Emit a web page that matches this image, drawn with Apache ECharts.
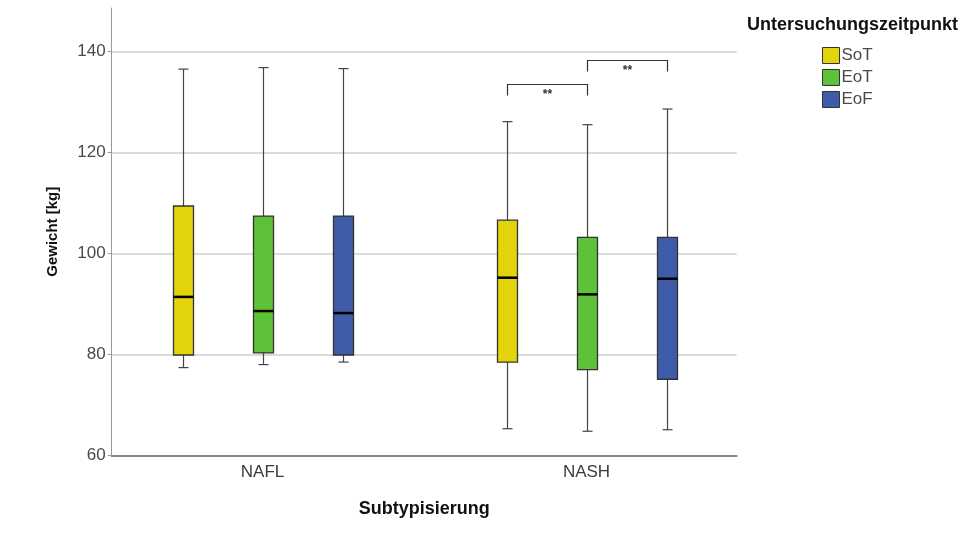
<!DOCTYPE html>
<html>
<head>
<meta charset="utf-8">
<script src="https://cdn.jsdelivr.net/npm/echarts@6/dist/echarts.min.js"></script>
<style>
  html, body { margin: 0; padding: 0; background: #fff; }
  #chart { width: 961px; height: 536px; }
</style>
</head>
<body>
<div id="chart"></div>
<script>
// data: [min, Q1, median, Q3, max] per category
var categories = ['NAFL', 'NASH']
var seriesNames = ['SoT', 'EoT', 'EoF']
var sotBox = [[77.4, 79.9, 91.4, 109.4, 136.5], [65.3, 78.5, 95.2, 106.6, 126.1]]
var eotBox = [[78.0, 80.3, 88.6, 107.4, 136.8], [64.8, 77.0, 91.9, 103.2, 125.5]]
var eofBox = [[78.5, 79.9, 88.2, 107.4, 136.6], [65.1, 75.1, 95.0, 103.2, 128.6]]
var yTicks = [60, 80, 100, 120, 140]

// significance brackets (NASH): from series -> to series, bracket height, label
var sigCategory = ['NASH', 'NASH']
var sigFrom = [0, 1]
var sigTo = [1, 2]
var sigLevel = [133.5, 138.3]
var sigLabel = ['**', '**']

var colors = ['#e2d30c', '#5ec238', '#3f5ca9']
var offsets = [-80, 0, 80] // box offset inside a category, px
var FONT = '"Liberation Sans", Arial, sans-serif'
var yMin = 60
var yMax = 148.6

function toData(box) {
  var out = []
  for (var i = 0; i < box.length; i++) {
    out.push([i].concat(box[i]))
  }
  return out
}

function boxRenderer(k) {
  return function (params, api) {
    var cat = api.value(0)
    var pMin = api.coord([cat, api.value(1)])
    var pQ1 = api.coord([cat, api.value(2)])
    var pMed = api.coord([cat, api.value(3)])
    var pQ3 = api.coord([cat, api.value(4)])
    var pMax = api.coord([cat, api.value(5)])
    var cx = Math.round(pMin[0] + offsets[k]) + 0.5
    var half = 10
    var cap = 5
    var whisker = { stroke: '#444', lineWidth: 1.2 }
    return {
      type: 'group',
      children: [
        { type: 'line', shape: { x1: cx, y1: pMax[1], x2: cx, y2: pQ3[1] }, style: whisker },
        { type: 'line', shape: { x1: cx, y1: pQ1[1], x2: cx, y2: pMin[1] }, style: whisker },
        { type: 'line', shape: { x1: cx - cap, y1: pMax[1], x2: cx + cap, y2: pMax[1] }, style: whisker },
        { type: 'line', shape: { x1: cx - cap, y1: pMin[1], x2: cx + cap, y2: pMin[1] }, style: whisker },
        {
          type: 'rect',
          shape: { x: cx - half, y: pQ3[1], width: half * 2, height: pQ1[1] - pQ3[1] },
          style: { fill: colors[k], stroke: '#333', lineWidth: 1.3 }
        },
        { type: 'line', shape: { x1: cx - half, y1: pMed[1], x2: cx + half, y2: pMed[1] }, style: { stroke: '#000', lineWidth: 2.5 } }
      ]
    }
  }
}

function sigRenderer(params, api) {
  var i = params.dataIndex
  var cat = api.value(0)
  var top = api.coord([cat, api.value(1)])
  var x1 = Math.round(top[0] + offsets[sigFrom[i]]) + 0.5
  var x2 = Math.round(top[0] + offsets[sigTo[i]]) + 0.5
  var y = Math.round(top[1]) + 0.5
  var leg = 11
  return {
    type: 'group',
    children: [
      {
        type: 'polyline',
        shape: { points: [[x1, y + leg], [x1, y], [x2, y], [x2, y + leg]] },
        style: { stroke: '#333', lineWidth: 1.2, fill: null }
      },
      {
        type: 'text',
        style: { x: (x1 + x2) / 2, y: y + 10, text: sigLabel[i], fill: '#333', font: 'bold 12px ' + FONT, align: 'center', verticalAlign: 'middle' }
      }
    ]
  }
}

var boxes = [sotBox, eotBox, eofBox]
var series = []
for (var k = 0; k < 3; k++) {
  series.push({
    name: seriesNames[k],
    type: 'custom',
    xAxisIndex: 1,
    yAxisIndex: 1,
    renderItem: boxRenderer(k),
    itemStyle: { color: colors[k] },
    encode: { x: 0, y: [1, 2, 3, 4, 5] },
    data: toData(boxes[k])
  })
}
var sigData = []
for (var s = 0; s < sigLevel.length; s++) {
  sigData.push([categories.indexOf(sigCategory[s]), sigLevel[s]])
}
series.push({
  name: 'sig',
  type: 'custom',
  xAxisIndex: 1,
  yAxisIndex: 1,
  renderItem: sigRenderer,
  encode: { x: 0, y: 1 },
  data: sigData
})

var chart = echarts.init(document.getElementById('chart'))
var option = {
  animation: false,
  textStyle: { fontFamily: FONT },
  title: {
    text: 'Untersuchungszeitpunkt',
    left: 747,
    top: 16,
    padding: 0,
    textStyle: { fontFamily: FONT, fontSize: 18, fontWeight: 'bold', color: '#111' }
  },
  legend: {
    orient: 'vertical',
    left: 822,
    top: 47,
    padding: 0,
    itemWidth: 17,
    itemHeight: 16,
    itemGap: 5,
    icon: 'rect',
    textStyle: { fontFamily: FONT, fontSize: 17, lineHeight: 17, color: '#4a4a4a', padding: [0, 0, 0, -3] },
    data: seriesNames.map(function (n, i) {
      return { name: n, itemStyle: { color: colors[i], borderColor: '#333', borderWidth: 1 } }
    })
  },
  grid: [
    // axes and grid lines
    { left: 111.7, right: 224.3, top: 8, bottom: 80.5 },
    // boxes: category bands 324px wide centred on NAFL / NASH
    { left: 100.5, width: 648, top: 8, bottom: 80.5 }
  ],
  xAxis: [
    {
      gridIndex: 0,
      type: 'category',
      data: categories,
      name: 'Subtypisierung',
      nameLocation: 'middle',
      nameGap: 45,
      nameTextStyle: { fontFamily: FONT, fontSize: 18, fontWeight: 'bold', color: '#111' },
      axisLine: { lineStyle: { color: '#888', width: 2 } },
      axisTick: { show: false },
      axisLabel: { show: false },
      splitLine: { show: false }
    },
    {
      gridIndex: 1,
      type: 'category',
      data: categories,
      axisLine: { show: false },
      axisTick: { show: false },
      axisLabel: { fontFamily: FONT, fontSize: 17, color: '#3a3a3a', margin: 8 },
      splitLine: { show: false }
    }
  ],
  yAxis: [
    {
      gridIndex: 0,
      type: 'value',
      min: yMin,
      max: yMax,
      interval: 20,
      name: 'Gewicht [kg]',
      nameLocation: 'middle',
      nameGap: 51,
      nameTextStyle: { fontFamily: FONT, fontSize: 15, fontWeight: 'bold', color: '#111' },
      axisLine: { show: true, lineStyle: { color: '#999', width: 1 } },
      axisTick: { show: true, length: 4, lineStyle: { color: '#999' } },
      axisLabel: {
        fontFamily: FONT, fontSize: 17, color: '#4a4a4a', margin: 6, showMaxLabel: false,
        formatter: function (v) { return yTicks.indexOf(v) >= 0 ? String(v) : '' }
      },
      splitLine: { show: true, showMaxLine: false, lineStyle: { color: '#cfcfcf', width: 1.5 } }
    },
    {
      gridIndex: 1,
      type: 'value',
      min: yMin,
      max: yMax,
      show: false
    }
  ],
  series: series
}
chart.setOption(option)
</script>
</body>
</html>
